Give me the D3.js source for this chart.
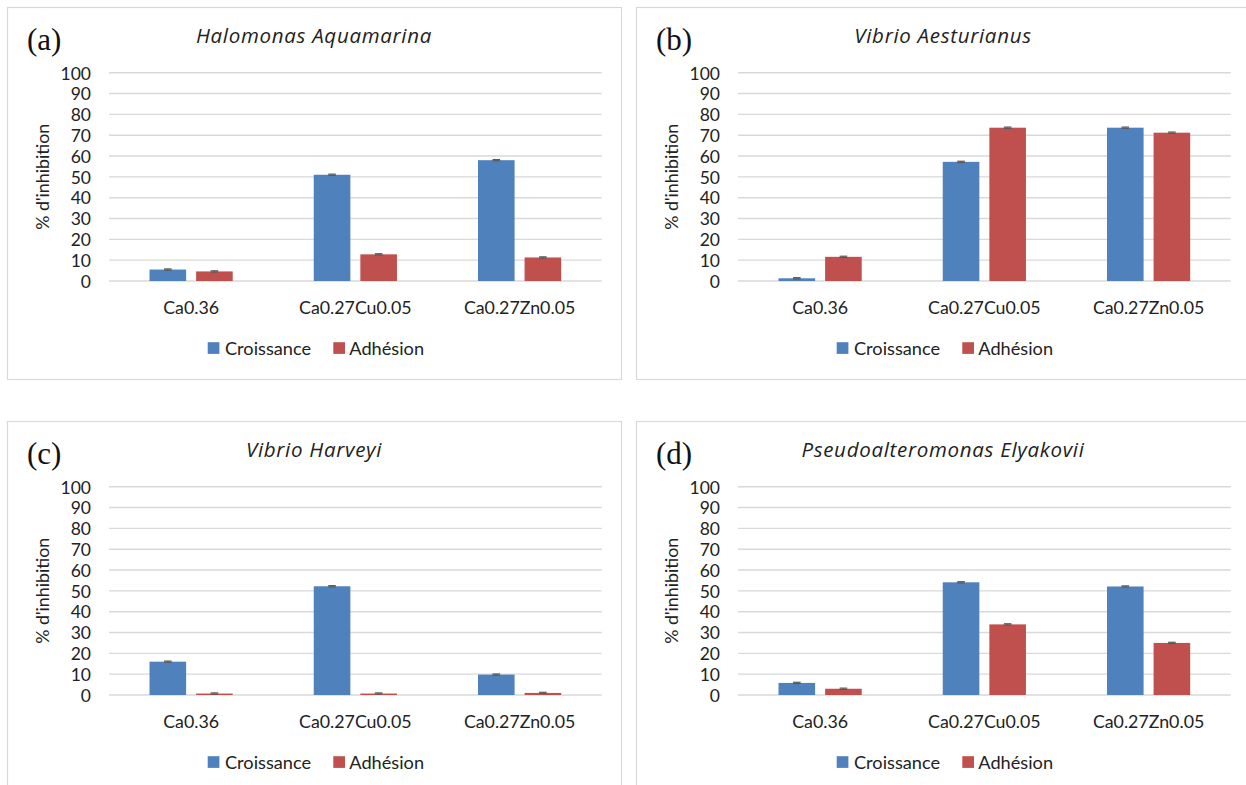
<!DOCTYPE html>
<html>
<head>
<meta charset="utf-8">
<script src="https://cdn.jsdelivr.net/npm/d3@7"></script>
<style>
  html, body { margin: 0; padding: 0; background: #ffffff; }
  svg { display: block; }
</style>
</head>
<body>
<svg id="chart" width="1246" height="785"></svg>
<script>
// ---------- data ----------
const categories = ["Ca0.36", "Ca0.27Cu0.05", "Ca0.27Zn0.05"];
const seriesNames = ["Croissance", "Adhésion"];
const yTicks = [0, 10, 20, 30, 40, 50, 60, 70, 80, 90, 100];

const panelLetters = ["(a)", "(b)", "(c)", "(d)"];
const panelTitles = ["Halomonas Aquamarina", "Vibrio Aesturianus", "Vibrio Harveyi", "Pseudoalteromonas Elyakovii"];

const croissanceA = [5.5, 51.0, 58.0];
const adhesionA   = [4.6, 12.8, 11.3];
const croissanceB = [1.3, 57.2, 73.6];
const adhesionB   = [11.6, 73.6, 71.2];
const croissanceC = [16.0, 52.2, 9.8];
const adhesionC   = [0.7, 0.7, 1.0];
const croissanceD = [5.8, 54.1, 52.1];
const adhesionD   = [3.0, 33.9, 25.0];

const errCroissance = [0.3, 0.3, 0.3];
const errAdhesion   = [0.3, 0.3, 0.3];

const panelData = [
  [croissanceA, adhesionA],
  [croissanceB, adhesionB],
  [croissanceC, adhesionC],
  [croissanceD, adhesionD]
];

// ---------- styles ----------
const colors = ["#4F81BD", "#C0504D"];
const sansFont = "Lato, 'Open Sans', sans-serif";
const panelW = 614, panelH = 372;
const panelPos = [[7, 7], [636, 7], [7, 421], [636, 421]];

const svg = d3.select("#chart");

panelPos.forEach((pos, i) => {
  const g = svg.append("g").attr("transform", `translate(${pos[0]},${pos[1]})`);

  g.append("rect")
    .attr("x", 0.5).attr("y", 0.5)
    .attr("width", panelW).attr("height", panelH)
    .attr("fill", "#ffffff")
    .attr("stroke", "#d9d9d9").attr("stroke-width", 1.2);

  const x0 = d3.scaleBand().domain(categories).range([102, 594.7]).padding(0);
  const x1 = d3.scaleBand().domain(seriesNames).range([-41.6, 41.6]).paddingInner(0.2146).paddingOuter(0);
  const y = d3.scaleLinear().domain([0, 100]).range([274, 65.7]);

  // gridlines
  g.append("g").selectAll("line").data(yTicks).join("line")
    .attr("x1", 102).attr("x2", 594.7)
    .attr("y1", d => y(d)).attr("y2", d => y(d))
    .attr("stroke", "#d9d9d9").attr("stroke-width", 1.4);

  // y axis via d3.axisLeft
  const yAxis = g.append("g").attr("transform", "translate(84,0)")
    .call(d3.axisLeft(y).tickValues(yTicks).tickSize(0).tickPadding(0).tickFormat(d3.format("d")));
  yAxis.select(".domain").remove();
  yAxis.selectAll("text")
    .attr("font-family", sansFont).attr("font-size", "17.5px").attr("fill", "#222")
    .attr("dy", "0.36em");

  // x axis labels
  const xAxis = g.append("g").attr("transform", "translate(0,274)")
    .call(d3.axisBottom(x0).tickSize(0).tickPadding(0));
  xAxis.select(".domain").remove();
  xAxis.selectAll("text")
    .attr("font-family", sansFont).attr("font-size", "17.8px").attr("fill", "#222")
    .attr("y", 33).attr("dy", 0);

  // bars
  const vals = panelData[i];
  const errs = [errCroissance, errAdhesion];
  seriesNames.forEach((s, si) => {
    const sg = g.append("g");
    sg.selectAll("rect").data(categories).join("rect")
      .attr("x", c => x0(c) + x0.bandwidth() / 2 + x1(s))
      .attr("y", (c, ci) => y(vals[si][ci]))
      .attr("width", x1.bandwidth())
      .attr("height", (c, ci) => y(0) - y(vals[si][ci]))
      .attr("fill", colors[si]);
    // error bars
    categories.forEach((c, ci) => {
      const cx = x0(c) + x0.bandwidth() / 2 + x1(s) + x1.bandwidth() / 2;
      const v = vals[si][ci], e = errs[si][ci];
      sg.append("line").attr("x1", cx).attr("x2", cx)
        .attr("y1", y(v + e)).attr("y2", y(v - e))
        .attr("stroke", "#595959").attr("stroke-width", 1);
      [v + e, v - e].forEach(t => {
        sg.append("line").attr("x1", cx - 3.8).attr("x2", cx + 3.8)
          .attr("y1", y(t)).attr("y2", y(t))
          .attr("stroke", "#595959").attr("stroke-width", 1.2);
      });
    });
  });

  // y axis title
  g.append("text")
    .attr("transform", `translate(42,${(y(0) + y(100)) / 2}) rotate(-90)`)
    .attr("text-anchor", "middle")
    .attr("font-family", sansFont).attr("font-size", "17.8px").attr("fill", "#222")
    .text("% d'inhibition");

  // title
  g.append("text")
    .attr("x", panelW / 2).attr("y", 36)
    .attr("text-anchor", "middle")
    .attr("font-family", "'Open Sans', Lato, sans-serif").attr("font-style", "italic")
    .attr("font-size", "20.5px").attr("letter-spacing", "0.7px").attr("fill", "#222")
    .text(panelTitles[i]);

  // panel letter
  g.append("text")
    .attr("x", 20).attr("y", 43)
    .attr("font-family", "'Liberation Serif', 'Times New Roman', serif")
    .attr("font-size", "31px").attr("fill", "#111")
    .text(panelLetters[i]);

  // legend
  const lg = g.append("g").attr("transform", "translate(0,341)");
  const legX = [[200.7, 218], [326.3, 342.3]];
  seriesNames.forEach((s, si) => {
    lg.append("rect")
      .attr("x", legX[si][0]).attr("y", -5.8)
      .attr("width", 11.7).attr("height", 11.7)
      .attr("fill", colors[si]);
    lg.append("text")
      .attr("x", legX[si][1]).attr("y", 0).attr("dy", "0.36em")
      .attr("font-family", sansFont).attr("font-size", "18.2px").attr("fill", "#222")
      .text(s);
  });
});
</script>
</body>
</html>
